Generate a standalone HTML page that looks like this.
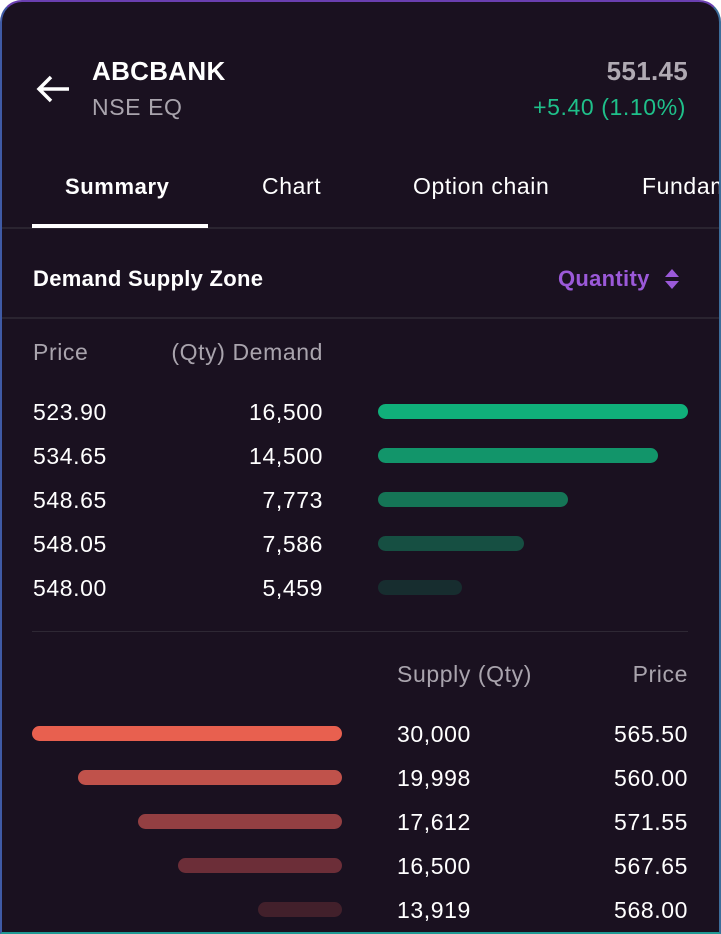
<!DOCTYPE html>
<html><head><meta charset="utf-8"><style>
html,body{margin:0;padding:0;background:#fff;}
body{width:721px;height:934px;overflow:hidden;font-family:"Liberation Sans",sans-serif;}
.card{position:absolute;left:0;top:0;width:717px;height:930px;border:2px solid;border-radius:22px 22px 0 0;border-color:#6a3fb0 #3c6d9a #1f9a94 #3f5aa5;border-bottom-color:#1f9a94;background:#1a1120;overflow:hidden;}
.t{position:absolute;white-space:nowrap;color:#fff;font-size:23px;line-height:1;letter-spacing:0.6px;margin-top:-1px;}
.b{font-weight:bold;letter-spacing:0.3px;font-size:22px;margin-top:0;}
.g{color:#a9a4ad;}
.bar{position:absolute;height:15px;border-radius:8px;}
.hl{position:absolute;left:0;right:0;height:2px;background:#2a2430;}
</style></head><body>
<div class="card">
<svg style="position:absolute;left:34px;top:72px" width="36" height="30"><path d="M3 15 H33 M15 3 L3 15 L15 27" stroke="#fff" stroke-width="3.5" fill="none"/></svg>
<div class="t b" style="left:90px;top:56px;font-size:26px;">ABCBANK</div>
<div class="t g" style="left:90px;top:95px;">NSE EQ</div>
<div class="t b" style="right:31px;top:56px;font-size:26px;color:#b0aab3;">551.45</div>
<div class="t" style="right:33px;top:95px;color:#1fc08a;">+5.40 (1.10%)</div>
<div class="t b" style="left:63px;top:174px;letter-spacing:0.6px;">Summary</div>
<div class="t" style="left:260px;top:174px;">Chart</div>
<div class="t" style="left:411px;top:174px;">Option chain</div>
<div class="t" style="left:640px;top:174px;">Fundamentals</div>
<div class="hl" style="top:225px;"></div>
<div style="position:absolute;left:30px;top:222px;width:176px;height:4px;background:#fff;"></div>
<div class="t b" style="left:31px;top:266px;">Demand Supply Zone</div>
<div class="t b" style="left:556px;top:266px;color:#9b59d9;">Quantity</div>
<svg style="position:absolute;left:661px;top:265px" width="20" height="26"><path d="M2 10 L9 2 L16 10Z M2 14 L16 14 L9 22Z" fill="#9b59d9"/></svg>
<div class="hl" style="top:315px;"></div>
<div class="t g" style="left:31px;top:340px;">Price</div>
<div class="t g" style="right:396px;top:340px;">(Qty) Demand</div>

<div class="t" style="left:31px;top:400px;">523.90</div><div class="t" style="right:396px;top:400px;">16,500</div><div class="bar" style="left:376px;width:310px;top:402px;background:#10b07a"></div>
<div class="t" style="left:31px;top:444px;">534.65</div><div class="t" style="right:396px;top:444px;">14,500</div><div class="bar" style="left:376px;width:280px;top:446px;background:#12956a"></div>
<div class="t" style="left:31px;top:488px;">548.65</div><div class="t" style="right:396px;top:488px;">7,773</div><div class="bar" style="left:376px;width:190px;top:490px;background:#157556"></div>
<div class="t" style="left:31px;top:532px;">548.05</div><div class="t" style="right:396px;top:532px;">7,586</div><div class="bar" style="left:376px;width:146px;top:534px;background:#164f42"></div>
<div class="t" style="left:31px;top:576px;">548.00</div><div class="t" style="right:396px;top:576px;">5,459</div><div class="bar" style="left:376px;width:84px;top:578px;background:#172d2f"></div>

<div style="position:absolute;left:30px;width:656px;top:629px;height:1px;background:#2e2834"></div>
<div class="t g" style="left:395px;top:662px;">Supply (Qty)</div>
<div class="t g" style="right:31px;top:662px;">Price</div>

<div class="bar" style="left:30px;width:310px;top:724px;background:#e8604f"></div><div class="t" style="left:395px;top:722px;">30,000</div><div class="t" style="right:31px;top:722px;">565.50</div>
<div class="bar" style="left:76px;width:264px;top:768px;background:#c0524b"></div><div class="t" style="left:395px;top:766px;">19,998</div><div class="t" style="right:31px;top:766px;">560.00</div>
<div class="bar" style="left:136px;width:204px;top:812px;background:#933f42"></div><div class="t" style="left:395px;top:810px;">17,612</div><div class="t" style="right:31px;top:810px;">571.55</div>
<div class="bar" style="left:176px;width:164px;top:856px;background:#6c2e38"></div><div class="t" style="left:395px;top:854px;">16,500</div><div class="t" style="right:31px;top:854px;">567.65</div>
<div class="bar" style="left:256px;width:84px;top:900px;background:#42202b"></div><div class="t" style="left:395px;top:898px;">13,919</div><div class="t" style="right:31px;top:898px;">568.00</div>
</div>
</body></html>
